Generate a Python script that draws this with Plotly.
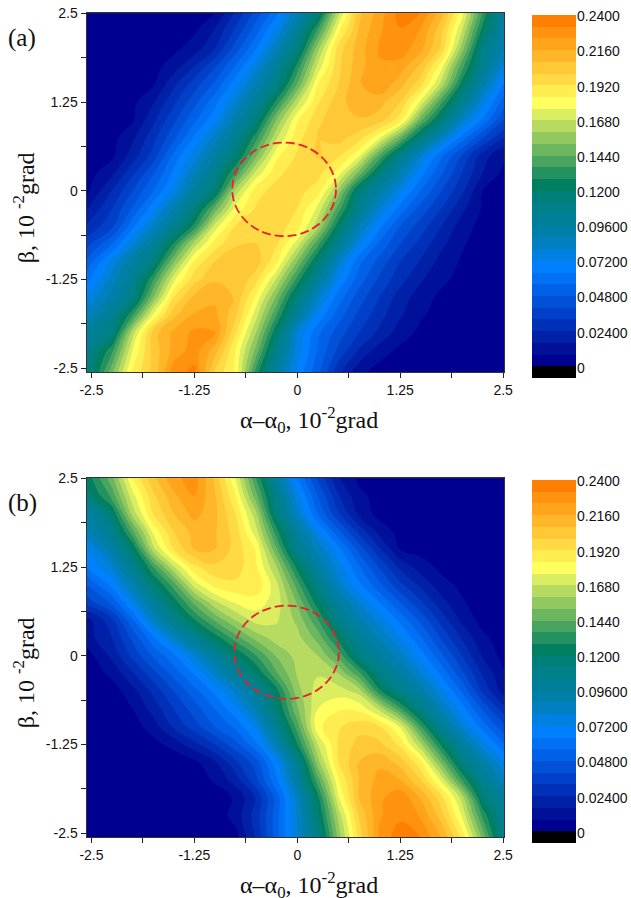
import plotly.graph_objects as go

W, H = 631, 898
X = [-2.56, -2.25, -2, -1.75, -1.5, -1.25, -1, -0.75, -0.5, -0.25, 0, 0.25, 0.5, 0.75, 1, 1.25, 1.5, 1.75, 2, 2.25, 2.51]
Y = [2.51, 2.25, 2, 1.75, 1.5, 1.25, 1, 0.75, 0.5, 0.25, 0, -0.25, -0.5, -0.75, -1, -1.25, -1.5, -1.75, -2, -2.25, -2.56]

Z_A = [
 [.002,.002,.002,.002,.002,.003,.007,.025,.043,.062,.087,.114,.166,.206,.220,.236,.232,.212,.180,.136,.095],
 [.002,.002,.003,.003,.004,.007,.017,.034,.053,.075,.100,.138,.182,.209,.223,.231,.223,.202,.168,.124,.092],
 [.002,.002,.003,.004,.006,.012,.024,.044,.064,.087,.112,.158,.196,.212,.225,.229,.218,.198,.156,.110,.088],
 [.002,.002,.003,.005,.012,.024,.039,.057,.077,.100,.131,.171,.198,.213,.223,.220,.206,.179,.139,.104,.078],
 [.002,.002,.004,.007,.022,.036,.050,.069,.089,.110,.145,.184,.200,.215,.223,.211,.195,.165,.124,.092,.063],
 [.002,.003,.006,.015,.030,.045,.061,.080,.101,.131,.166,.191,.205,.213,.211,.200,.174,.138,.104,.076,.052],
 [.002,.004,.007,.022,.038,.054,.070,.092,.114,.153,.183,.197,.208,.207,.204,.188,.147,.115,.084,.063,.040],
 [.003,.005,.014,.029,.046,.065,.083,.104,.133,.167,.189,.200,.203,.196,.178,.147,.113,.085,.061,.041,.024],
 [.003,.006,.020,.035,.058,.076,.095,.116,.150,.182,.193,.201,.194,.178,.142,.109,.081,.058,.040,.020,.009],
 [.004,.014,.030,.047,.066,.086,.107,.137,.171,.190,.196,.195,.180,.149,.115,.090,.067,.049,.032,.016,.006],
 [.006,.024,.040,.056,.074,.098,.117,.163,.189,.195,.195,.188,.158,.116,.094,.074,.056,.040,.026,.008,.003],
 [.015,.032,.049,.069,.090,.113,.146,.179,.193,.196,.192,.174,.140,.105,.080,.061,.045,.032,.018,.007,.003],
 [.025,.038,.062,.083,.104,.131,.172,.193,.196,.196,.188,.162,.122,.088,.066,.048,.036,.024,.012,.005,.002],
 [.037,.056,.079,.099,.129,.164,.188,.199,.200,.193,.172,.138,.103,.074,.054,.040,.029,.018,.009,.004,.002],
 [.050,.075,.096,.114,.152,.186,.200,.205,.204,.185,.152,.117,.083,.058,.045,.032,.023,.013,.007,.003,.002],
 [.061,.084,.103,.135,.174,.197,.207,.208,.195,.167,.133,.099,.071,.052,.038,.027,.017,.010,.005,.002,.002],
 [.073,.092,.110,.152,.192,.210,.214,.207,.182,.150,.113,.083,.060,.044,.032,.020,.012,.006,.003,.002,.002],
 [.085,.103,.135,.178,.206,.217,.218,.202,.171,.136,.099,.070,.052,.038,.027,.017,.009,.005,.003,.002,.002],
 [.098,.112,.165,.204,.218,.226,.224,.193,.160,.120,.079,.058,.044,.032,.022,.012,.006,.003,.002,.002,.002],
 [.103,.134,.176,.203,.219,.228,.212,.184,.149,.107,.076,.055,.038,.023,.012,.006,.003,.002,.002,.002,.002],
 [.108,.150,.186,.202,.229,.234,.198,.183,.132,.096,.070,.050,.026,.010,.004,.002,.002,.002,.002,.002,.002],
]

Z_B = [
 [.122,.150,.185,.206,.222,.228,.206,.176,.135,.096,.064,.038,.016,.006,.003,.002,.002,.002,.002,.002,.002],
 [.114,.139,.173,.198,.214,.224,.209,.184,.147,.107,.075,.048,.025,.010,.005,.003,.002,.002,.002,.002,.002],
 [.090,.120,.163,.192,.208,.219,.210,.192,.162,.113,.083,.056,.033,.014,.005,.003,.002,.002,.002,.002,.002],
 [.086,.106,.142,.178,.200,.211,.209,.196,.171,.131,.097,.073,.050,.029,.013,.005,.004,.003,.002,.002,.002],
 [.070,.093,.120,.165,.192,.208,.208,.197,.183,.145,.105,.086,.067,.045,.025,.008,.005,.003,.002,.002,.002],
 [.064,.080,.105,.136,.167,.190,.198,.196,.185,.160,.125,.096,.076,.057,.039,.022,.012,.006,.004,.002,.002],
 [.048,.067,.090,.117,.140,.172,.187,.190,.190,.170,.140,.108,.083,.066,.050,.034,.022,.011,.006,.003,.002],
 [.035,.050,.074,.099,.123,.146,.166,.177,.180,.172,.151,.123,.097,.079,.064,.048,.033,.019,.009,.004,.002],
 [.012,.030,.055,.083,.107,.127,.145,.160,.171,.169,.158,.137,.108,.090,.077,.062,.046,.029,.014,.005,.002],
 [.012,.024,.042,.062,.083,.103,.123,.140,.155,.164,.163,.149,.125,.102,.087,.073,.057,.039,.023,.010,.004],
 [.004,.018,.034,.049,.062,.080,.099,.119,.136,.153,.163,.160,.142,.113,.098,.084,.068,.050,.032,.015,.005],
 [.003,.010,.023,.037,.051,.065,.082,.100,.120,.143,.161,.167,.160,.138,.112,.096,.080,.062,.042,.023,.009],
 [.002,.004,.013,.026,.040,.053,.066,.082,.100,.125,.157,.172,.172,.165,.130,.108,.093,.075,.055,.031,.012],
 [.002,.003,.008,.019,.032,.044,.056,.070,.090,.118,.151,.176,.183,.182,.166,.138,.110,.088,.068,.047,.027],
 [.002,.002,.004,.012,.025,.036,.048,.058,.074,.105,.140,.182,.191,.197,.193,.175,.137,.103,.080,.061,.042],
 [.002,.002,.003,.005,.011,.021,.032,.045,.062,.089,.127,.168,.193,.203,.202,.190,.162,.126,.097,.077,.057],
 [.002,.002,.002,.002,.002,.006,.015,.030,.044,.070,.105,.157,.192,.208,.214,.205,.186,.150,.113,.093,.073],
 [.002,.002,.002,.002,.002,.004,.009,.020,.038,.063,.096,.141,.183,.208,.219,.216,.200,.174,.136,.105,.085],
 [.002,.002,.002,.002,.002,.002,.004,.009,.025,.052,.084,.125,.175,.208,.222,.230,.215,.195,.165,.117,.098],
 [.002,.002,.002,.002,.002,.002,.003,.011,.028,.053,.081,.118,.163,.201,.223,.230,.223,.204,.175,.134,.102],
 [.002,.002,.002,.002,.002,.002,.002,.005,.025,.053,.080,.108,.155,.195,.226,.237,.232,.216,.190,.150,.105],
]

BAND_COLORS = ["#000000",
 "#000090","#001099","#0020A8","#0030B8","#0040C8","#0050D8","#0060E8","#0070F4","#0080FF",
 "#0080E0","#0080C0","#0080A8","#008098","#008088","#008078","#008060",
 "#249260","#49A460","#6DB660","#92C860","#B6DB60","#DBED60","#FFFF60",
 "#FFED52","#FFDA44","#FFC837","#FFB629","#FFA41B","#FF920E","#FF8000"]
BAND_EDGES = [-.007, .001, .009, .017, .025, .033, .041, .049, .057, .065, .073, .081, .089, .097, .105, .113,
              .121, .129, .137, .145, .153, .161, .169, .177, .185, .193, .201, .209, .217, .225, .233, .241]
BAND_INDEX = list(range(31))
BAR_TICKS = [0, 0.024, 0.048, 0.072, 0.096, 0.12, 0.144, 0.168, 0.192, 0.216, 0.24]
BAR_LABELS = ["0", "0.02400", "0.04800", "0.07200", "0.09600", "0.1200", "0.1440", "0.1680", "0.1920", "0.2160", "0.2400"]
AXIS_TICKS = [-2.5, -1.25, 0, 1.25, 2.5]
AXIS_LABELS = ["-2.5", "-1.25", "0", "1.25", "2.5"]
AXIS_MINOR = [-1.875, -0.625, 0.625, 1.875]
CIRCLE_A = (-0.16, 0.02, 0.63, 0.66)
CIRCLE_B = (-0.13, 0.05, 0.635, 0.657)

n = len(BAND_COLORS) - 1
colorscale = [[i / n, c] for i, c in enumerate(BAND_COLORS)]
sans = dict(family="Liberation Sans", size=14, color="#111")
serif = dict(family="Liberation Serif", color="#111")

fig = go.Figure()
PANELS = [
    (1, Z_A, 13.3, 372.3, CIRCLE_A, "(a)", 15, 378, 38),
    (2, Z_B, 478.3, 837.3, CIRCLE_B, "(b)", 480, 843, 503),
]
axes, shapes, annots = {}, [], []
for k, z, top, bot, circ, tag, cb_top, cb_bot, tag_y in PANELS:
    a = 2 * k - 1
    b = 2 * k
    xa, ya, xb, yb = f"x{a}", f"y{a}", f"x{b}", f"y{b}"
    fig.add_trace(go.Contour(
        x=X, y=Y[::-1], z=z[::-1], xaxis=xa, yaxis=ya,
        colorscale=colorscale, autocontour=False, showscale=False,
        contours=dict(start=0, end=0.232, size=0.008, coloring="fill", showlines=False),
        line=dict(width=0, smoothing=1.3), hoverinfo="skip",
    ))
    fig.add_trace(go.Heatmap(
        x=[0, 1], y=BAND_EDGES, z=[[i] for i in BAND_INDEX], xaxis=xb, yaxis=yb,
        colorscale=colorscale, zmin=0, zmax=n, showscale=False, hoverinfo="skip",
    ))
    common = dict(
        showgrid=False, zeroline=False, tickmode="array", tickvals=AXIS_TICKS, ticktext=AXIS_LABELS,
        ticks="outside", ticklen=5, tickwidth=1, tickcolor="#222", tickfont=sans,
        minor=dict(tickvals=AXIS_MINOR, ticks="outside", ticklen=5, tickwidth=1, tickcolor="#222"),
        showline=True, linecolor="#333", linewidth=1, mirror=True, automargin=False,
    )
    axes[f"xaxis{a}"] = dict(common, domain=[86.5 / W, 504 / W], range=[-2.56, 2.51], anchor=ya)
    axes[f"yaxis{a}"] = dict(common, domain=[1 - bot / H, 1 - top / H], range=[-2.556, 2.5], anchor=xa)
    axes[f"xaxis{b}"] = dict(domain=[532 / W, 576 / W], range=[0, 1], anchor=yb, visible=False)
    axes[f"yaxis{b}"] = dict(
        domain=[1 - cb_bot / H, 1 - cb_top / H], range=[-.007, .241], anchor=xb, side="right",
        showgrid=False, zeroline=False, showline=False, tickmode="array", tickvals=BAR_TICKS, ticktext=BAR_LABELS,
        ticks="", tickfont=sans, automargin=False,
    )
    cx, cy, rx, ry = circ
    shapes.append(dict(type="circle", xref=xa, yref=ya, x0=cx - rx, x1=cx + rx, y0=cy - ry, y1=cy + ry,
                       line=dict(color="#E8202A", width=1.8, dash="9px,4px")))
    annots.append(dict(text=tag, xref="paper", yref="paper", x=22 / W, y=1 - tag_y / H, showarrow=False,
                       xanchor="center", yanchor="middle", font=dict(serif, size=25)))
    annots.append(dict(text="α–α<sub>0</sub>, 10<sup>-2</sup>grad", xref="paper", yref="paper", x=309 / W,
                       y=1 - (bot + 48) / H, showarrow=False, xanchor="center", yanchor="middle",
                       font=dict(serif, size=24)))
    annots.append(dict(text="β, 10 <sup>-2</sup>grad", xref="paper", yref="paper", x=24 / W,
                       y=1 - (top + 195) / H, showarrow=False, textangle=-90, xanchor="center",
                       yanchor="middle", font=dict(serif, size=24)))

fig.update_layout(
    width=W, height=H, margin=dict(l=0, r=0, t=0, b=0, autoexpand=False), showlegend=False,
    paper_bgcolor="white", plot_bgcolor="white", shapes=shapes, annotations=annots, **axes,
)
fig.write_html("out.html", config={"displayModeBar": False}, post_script="document.body.style.margin='0';")
